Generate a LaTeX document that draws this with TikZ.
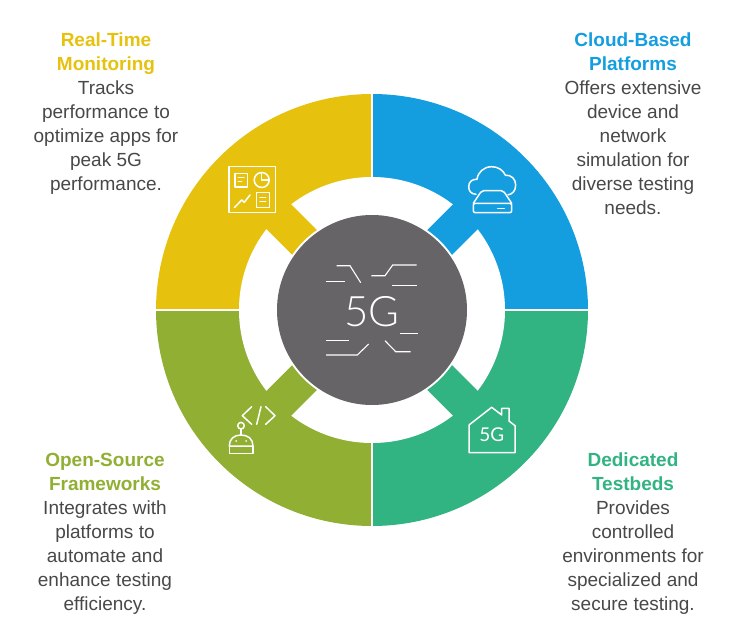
\documentclass[tikz,border=0pt]{standalone}
\usepackage{fontspec}
\setmainfont{Liberation Sans}
\newfontfamily\thinfont{Lato Light}
\newfontfamily\housefont{Lato}
\definecolor{monYellow}{HTML}{E6C20F}
\definecolor{cloudBlue}{HTML}{149EE0}
\definecolor{bedGreen}{HTML}{32B382}
\definecolor{srcOlive}{HTML}{90AF33}
\definecolor{hubGrey}{HTML}{676467}
\definecolor{bodyGrey}{HTML}{484848}
\newcommand{\ttl}[2]{\textcolor{#1}{\textbf{#2}}}
\tikzset{
  caption/.style={anchor=north,align=center,inner sep=0pt,text=bodyGrey,font=\fontsize{19}{24}\selectfont},
  iconline/.style={draw=white,line width=1.5pt,line cap=round,line join=round},
  hubline/.style={draw=white,line width=1.1pt},
  sector/.style={draw=white,line width=1.8pt}
}

\begin{document}
\begin{tikzpicture}[x=1pt,y=-1pt]
  \useasboundingbox (0,0) rectangle (744,631);
  \coordinate (ctr) at (372,310);
  % quadrants
  \foreach \ang/\col in {0/cloudBlue,90/monYellow,180/srcOlive,270/bedGreen} {%
    \fill[\col] (ctr) -- ++(\ang:216pt) arc[start angle=\ang,delta angle=90,radius=216pt] -- cycle;
  }
  \draw[sector] (156,310) -- (588,310);
  \draw[sector] (372,94) -- (372,526);
  \fill[white] (ctr) circle[radius=133pt];
  \foreach \ang/\col in {45/cloudBlue,135/monYellow,225/srcOlive,315/bedGreen} {%
    \fill[\col,shift={(372,310)},rotate=\ang] (0pt,-17.5pt) rectangle (140pt,17.5pt);
  }
  \fill[white] (ctr) circle[radius=97pt];
  \fill[hubGrey] (ctr) circle[radius=95pt];

  % hub
  \node[inner sep=0pt,text=white,font=\thinfont\fontsize{42}{42}\selectfont] (hub) at (372,312) {5G};
  \draw[hubline] (336.7,265.7) -- (350,265.7) -- (360.7,282.7);
  \draw[hubline] (326,281.7) -- (345,281.7);
  \draw[hubline] (371.3,275.7) -- (385,275.7) -- (392.7,265) -- (416.7,265);
  \draw[hubline] (392,285.3) -- (416.7,285.3);
  \draw[hubline] (326,340.3) -- (349,340.3);
  \draw[hubline] (326,355) -- (357.3,355) -- (368.7,344);
  \draw[hubline] (400,333.3) -- (417.7,333.3);
  \draw[hubline] (385,340.7) -- (395.7,351.7) -- (410.7,351.7);

  % dashboard icon
  \draw[iconline] (229,166.7) rectangle (275.7,212.7);
  \draw[iconline] (235,173.3) rectangle (247.7,187);
  \draw[iconline] (238.3,177.7) -- (244,177.7) (238.3,181.7) -- (241.7,181.7);
  \draw[iconline] (261.7,180) circle[radius=7.5pt];
  \draw[iconline] (261.7,172.5) -- (261.7,180) -- (269.2,180);
  \draw[iconline] (234.3,207.7) -- (241.7,200) -- (244.3,202.3) -- (250,195);
  \draw[iconline] (256.7,192.7) rectangle (269.3,207.3);
  \draw[iconline] (260,197.3) -- (265.7,197.3) (260,201.7) -- (265.7,201.7);

  % cloud icon
  \draw[iconline] (476,194.3) .. controls (471,194) and (468.7,191) .. (468.7,186.7)
    .. controls (468.7,182) and (472,179) .. (477,179.3)
    .. controls (478,172) and (484,166.7) .. (491.7,166.7)
    .. controls (498,166.7) and (503,170) .. (505.5,175.3)
    .. controls (511,174.5) and (515.7,179) .. (515.7,185)
    .. controls (515.7,191) and (512,194.5) .. (508,194.8);
  \draw[iconline,rounded corners=2pt] (473.3,203.3) -- (481.7,190.7) -- (503.3,190.7) -- (511.7,203.3);
  \draw[iconline,rounded corners=2pt] (473.3,203.3) rectangle (511.7,212.7);
  \draw[iconline] (497.7,208.3) -- (504.3,208.3);

  % robot icon
  \draw[iconline] (251.7,406.7) -- (242.3,415.7) -- (251.7,424.3);
  \draw[iconline] (261,406.7) -- (256.7,424.3);
  \draw[iconline] (265.7,406.7) -- (275,415.7) -- (265.7,424.3);
  \draw[iconline] (241,425.7) circle[radius=3.3pt];
  \draw[iconline] (241,429) -- (241,435);
  \draw[iconline] (229.3,446) .. controls (229.3,439) and (234,435) .. (241,435)
    .. controls (248,435) and (253,439) .. (253,446) -- cycle;
  \draw[iconline] (229.3,446) -- (229.3,453.3) -- (253,453.3) -- (253,446);
  \draw[iconline] (236,441) -- (236.3,441) (246,441) -- (246.3,441);

  % house icon
  \draw[iconline] (469,425) -- (491.7,407.3) -- (501.7,415) -- (501.7,408.3) -- (509,408.3) -- (509,421)
    -- (515,425.7) -- (515,452.7) -- (469,452.7) -- cycle;
  \node[inner sep=0pt,text=white,font=\housefont\fontsize{19}{19}\selectfont] (house) at (491.7,435) {5G};

  % captions
  \node[caption] (mon) at (106,33) {\ttl{monYellow}{Real-Time}\\\ttl{monYellow}{Monitoring}\\Tracks\\performance to\\optimize apps for\\peak 5G\\performance.};
  \node[caption] (cloud) at (633,33) {\ttl{cloudBlue}{Cloud-Based}\\\ttl{cloudBlue}{Platforms}\\Offers extensive\\device and\\network\\simulation for\\diverse testing\\needs.};
  \node[caption] (src) at (105,453) {\ttl{srcOlive}{Open-Source}\\\ttl{srcOlive}{Frameworks}\\Integrates with\\platforms to\\automate and\\enhance testing\\efficiency.};
  \node[caption] (bed) at (633,453) {\ttl{bedGreen}{Dedicated}\\\ttl{bedGreen}{Testbeds}\\Provides\\controlled\\environments for\\specialized and\\secure testing.};
\end{tikzpicture}
\end{document}
